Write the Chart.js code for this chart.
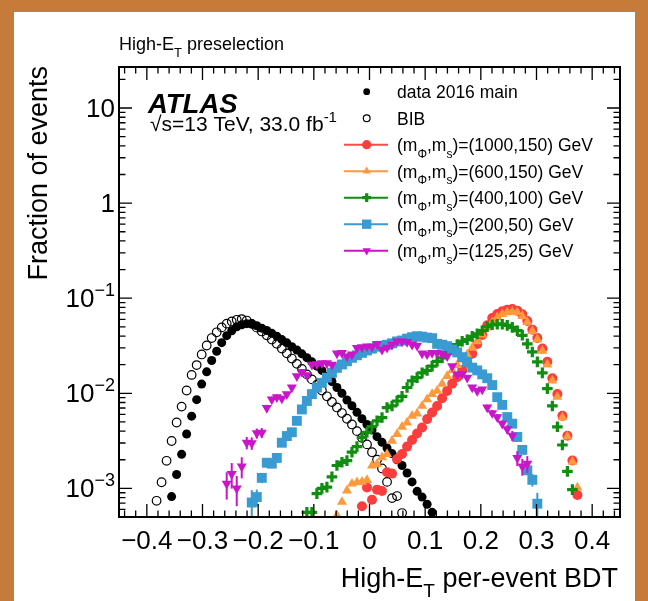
<!DOCTYPE html>
<html>
<head>
<meta charset="utf-8">
<title>High-ET per-event BDT</title>
<script src="https://cdn.jsdelivr.net/npm/chart.js@4.4.1/dist/chart.umd.min.js"></script>
<style>
  html, body { margin: 0; padding: 0; background: #fff; }
  #wrap { width: 648px; height: 601px; }
</style>
</head>
<body>
<div id="wrap"><canvas id="bdt-chart" width="648" height="601"></canvas></div>
<script>
// histogram binning of the BDT output (100 bins over the axis range)
const BIN_LO = -0.45;
const BIN_W = 0.009;

// fraction of events per bin, first bin index given by *Start
const dataStart = 10;
const dataVals = [
  8.2e-4, 1.40e-3, 2.28e-3, 3.73e-3, 5.75e-3, 8.57e-3, 1.25e-2, 1.68e-2, 2.21e-2, 2.77e-2,
  3.41e-2, 4.04e-2, 4.55e-2, 5.01e-2, 5.26e-2, 5.40e-2, 5.37e-2, 5.13e-2, 4.84e-2, 4.57e-2,
  4.27e-2, 3.98e-2, 3.67e-2, 3.39e-2, 3.09e-2, 2.85e-2, 2.60e-2, 2.37e-2, 2.14e-2, 1.93e-2,
  1.74e-2, 1.51e-2, 1.33e-2, 1.15e-2, 1.00e-2, 8.5e-3, 7.4e-3, 6.3e-3, 5.4e-3, 4.7e-3,
  4.1e-3, 3.5e-3, 3.05e-3, 2.66e-3, 2.32e-3, 2.0e-3, 1.74e-3, 1.45e-3, 1.17e-3, 9.3e-4,
  8.1e-4, 6.8e-4, 5.6e-4
];

const bibStart = 7;
const bibVals = [
  7.4e-4, 1.16e-3, 1.95e-3,
  3.15e-3, 4.93e-3, 7.24e-3, 1.07e-2, 1.56e-2, 1.98e-2, 2.56e-2, 3.18e-2, 3.81e-2, 4.38e-2,
  4.93e-2, 5.40e-2, 5.69e-2, 5.93e-2, 6.03e-2, 5.82e-2, 5.37e-2, 4.90e-2, 4.47e-2, 4.07e-2,
  3.67e-2, 3.31e-2, 2.95e-2, 2.63e-2, 2.32e-2, 2.04e-2, 1.80e-2, 1.58e-2, 1.40e-2, 1.23e-2,
  1.07e-2, 9.3e-3, 8.1e-3, 7.1e-3, 6.2e-3, 5.4e-3, 4.7e-3, 4.0e-3, 3.4e-3, 2.9e-3,
  2.4e-3, 2.0e-3, 1.62e-3, 1.17e-3, 7.9e-4, 8.3e-4, 5.5e-4
];

// signal points (m_Phi, m_s) in GeV
const signalMasses = [[1000, 150], [600, 150], [400, 100], [200, 50], [125, 25]];

const sig1000Start = 48;
const sig1000Vals = [
  6.5e-4, 1.02e-3,
  7.6e-4, 9.7e-4, 9.4e-4, 1.48e-3, 1.43e-3, 2.04e-3, 2.30e-3, 2.75e-3, 3.23e-3, 3.78e-3,
  4.37e-3, 5.35e-3, 6.27e-3, 7.36e-3, 8.85e-3, 1.06e-2, 1.26e-2, 1.48e-2, 1.75e-2, 2.1e-2,
  2.6e-2, 3.3e-2, 4.1e-2, 5.2e-2, 6.2e-2, 6.8e-2, 7.3e-2, 7.55e-2, 7.7e-2, 7.4e-2,
  6.76e-2, 5.75e-2, 4.67e-2, 3.81e-2, 2.95e-2, 2.14e-2, 1.44e-2, 9.8e-3, 5.79e-3, 3.58e-3,
  1.96e-3, 8.5e-4
];

const sig600Start = 43;
const sig600Vals = [
  5.2e-4, 7.2e-4, 9.5e-4, 1.12e-3, 1.16e-3, 1.17e-3, 1.22e-3,
  1.74e-3, 1.80e-3, 2.12e-3, 2.30e-3, 3.16e-3, 3.72e-3, 4.44e-3, 4.93e-3, 5.79e-3, 6.12e-3,
  7.36e-3, 8.65e-3, 9.8e-3, 1.06e-2, 1.26e-2, 1.52e-2, 1.74e-2, 1.98e-2, 2.26e-2, 2.56e-2,
  3.0e-2, 3.52e-2, 4.13e-2, 4.9e-2, 5.6e-2, 6.3e-2, 6.8e-2, 7.1e-2, 7.2e-2, 7.1e-2,
  6.5e-2, 5.6e-2, 4.5e-2, 3.7e-2, 2.8e-2, 2.0e-2, 1.36e-2, 9.2e-3, 5.6e-3, 3.5e-3,
  1.9e-3, 1.02e-3
];

const sig400Start = 37;
const sig400Vals = [
  5.6e-4, 5.6e-4, 8.8e-4,
  1.0e-3, 1.03e-3, 1.32e-3, 1.74e-3, 1.88e-3, 1.96e-3, 2.40e-3, 2.75e-3, 3.44e-3, 3.89e-3,
  4.47e-3, 5.13e-3, 5.56e-3, 7.08e-3, 7.36e-3, 8.3e-3, 9.3e-3, 1.15e-2, 1.35e-2, 1.46e-2,
  1.64e-2, 1.74e-2, 1.93e-2, 2.17e-2, 2.36e-2, 2.63e-2, 2.95e-2, 3.25e-2, 3.52e-2, 3.66e-2,
  3.97e-2, 4.22e-2, 4.55e-2, 5.01e-2, 5.25e-2, 5.33e-2, 5.33e-2, 5.18e-2, 4.93e-2, 4.55e-2,
  4.07e-2, 3.31e-2, 2.72e-2, 2.14e-2, 1.64e-2, 1.12e-2, 7.36e-3, 4.44e-3, 2.86e-3, 1.51e-3,
  9.7e-4
];

const sig200Start = 26;
const sig200Vals = [
  7.1e-4, 8.1e-4, 1.29e-3, 1.86e-3,
  1.82e-3, 2.09e-3, 3.02e-3, 3.55e-3, 3.89e-3, 5.13e-3, 6.76e-3, 8.3e-3, 9.8e-3, 1.15e-2,
  1.29e-2, 1.46e-2, 1.64e-2, 1.85e-2, 2.01e-2, 2.17e-2, 2.36e-2, 2.51e-2, 2.66e-2, 2.82e-2,
  2.95e-2, 3.09e-2, 3.16e-2, 3.24e-2, 3.35e-2, 3.51e-2, 3.59e-2, 3.76e-2, 3.89e-2, 3.98e-2,
  3.94e-2, 3.85e-2, 3.80e-2, 3.31e-2, 3.24e-2, 3.13e-2, 2.88e-2, 2.69e-2, 2.40e-2, 2.14e-2,
  1.86e-2, 1.74e-2, 1.58e-2, 1.44e-2, 1.22e-2, 9.1e-3, 7.55e-3, 5.62e-3, 4.79e-3, 3.47e-3,
  2.54e-3, 1.55e-3, 1.23e-3, 6.9e-4
];
// relative stat. uncertainty where the bar sticks out of the marker
const sig200Err = { 26: 0.35, 27: 0.2, 28: 0.12, 81: 0.1, 82: 0.15, 83: 0.3 };

const sig125Start = 21;
const sig125Vals = [
  1.12e-3, 1.42e-3, 1.0e-3, 1.70e-3, 3.02e-3, 2.99e-3, 3.80e-3, 3.85e-3, 7.0e-3,
  8.6e-3, 9.1e-3, 8.8e-3, 9.8e-3, 1.15e-2, 1.51e-2, 1.68e-2, 1.55e-2, 2.0e-2, 2.02e-2,
  2.07e-2, 2.07e-2, 2.0e-2, 2.63e-2, 2.66e-2, 2.45e-2, 2.56e-2, 3.0e-2, 3.05e-2, 3.12e-2,
  3.09e-2, 3.31e-2, 2.88e-2, 3.02e-2, 3.24e-2, 3.52e-2, 3.51e-2, 3.47e-2, 3.25e-2, 3.16e-2,
  2.63e-2, 2.57e-2, 2.66e-2, 2.66e-2, 2.59e-2, 2.45e-2, 1.93e-2, 1.58e-2, 1.60e-2, 1.46e-2,
  1.15e-2, 1.06e-2, 1.10e-2, 7.1e-3, 6.2e-3, 5.6e-3, 4.8e-3, 4.2e-3, 3.58e-3, 2.09e-3,
  1.70e-3, 1.82e-3
];
const sig125Err = {
  21: 0.32, 22: 0.3, 23: 0.35, 24: 0.25, 25: 0.15, 26: 0.15, 27: 0.12, 28: 0.12, 29: 0.08,
  30: 0.07, 31: 0.07, 32: 0.07, 73: 0.07, 74: 0.08, 75: 0.08, 76: 0.08, 77: 0.1, 78: 0.12,
  79: 0.18, 80: 0.2, 81: 0.2
};

const xTickLabels = ['\u22120.4', '\u22120.3', '\u22120.2', '\u22120.1', '0', '0.1', '0.2', '0.3', '0.4'];
const yTickExps = [-3, -2, -1, 0, 1];

const FONT = '"Liberation Sans", Arial, Helvetica, sans-serif';
const FRAME_COL = '#c77b3b';

function binned(start, vals, errs) {
  return vals.map((v, i) => ({
    x: BIN_LO + (start + i + 0.5) * BIN_W,
    y: v,
    err: errs ? errs[start + i] : undefined
  }));
}

function sigLabel(m) {
  return [['(m', ''], ['\u03A6', 'sub'], [',m', ''], ['s', 'sub'], [')=(' + m[0] + ',' + m[1] + ') GeV', '']];
}

// text with sub/superscript pieces: parts = [[text, ''|'sub'|'sup'], ...]
function drawRich(ctx, x, y, parts, size, align, style) {
  const pre = style ? style + ' ' : '';
  const items = parts.map(p => {
    const s = p[1] ? Math.round(size * 0.7) : size;
    ctx.font = pre + s + 'px ' + FONT;
    return { t: p[0], mode: p[1], s: s, w: ctx.measureText(p[0]).width };
  });
  const total = items.reduce((a, it) => a + it.w, 0);
  let cx = align === 'right' ? x - total : (align === 'center' ? x - total / 2 : x);
  ctx.textAlign = 'left';
  ctx.textBaseline = 'alphabetic';
  items.forEach(it => {
    ctx.font = pre + it.s + 'px ' + FONT;
    const dy = it.mode === 'sub' ? size * 0.38 : (it.mode === 'sup' ? -size * 0.42 : 0);
    ctx.fillText(it.t, cx, y + dy);
    cx += it.w;
  });
}

const framePlugin = {
  id: 'frame',
  beforeDraw(chart) {
    const ctx = chart.ctx;
    ctx.save();
    ctx.fillStyle = FRAME_COL;
    ctx.fillRect(0, 0, chart.width, chart.height);
    ctx.fillStyle = '#fff';
    ctx.fillRect(14, 12, 621, chart.height - 12);
    ctx.restore();
  }
};

const errorBarPlugin = {
  id: 'errorBars',
  beforeDatasetDraw(chart, args) {
    const ds = chart.data.datasets[args.index];
    const ys = chart.scales.y;
    const area = chart.chartArea;
    const ctx = chart.ctx;
    ctx.save();
    ctx.strokeStyle = ds.borderColor;
    ctx.lineWidth = 2;
    args.meta.data.forEach((pt, i) => {
      const d = ds.data[i];
      if (!d.err) return;
      const top = Math.max(area.top, ys.getPixelForValue(d.y * (1 + d.err)));
      const bot = Math.min(area.bottom, ys.getPixelForValue(Math.max(d.y * (1 - d.err), 1e-6)));
      ctx.beginPath();
      ctx.moveTo(pt.x, top);
      ctx.lineTo(pt.x, bot);
      ctx.stroke();
    });
    ctx.restore();
  }
};

const axesPlugin = {
  id: 'rootAxes',
  afterDraw(chart) {
    const ctx = chart.ctx;
    const a = chart.chartArea;
    const xs = chart.scales.x;
    const ys = chart.scales.y;
    ctx.save();
    ctx.strokeStyle = '#000';
    ctx.fillStyle = '#000';

    // ticks inside the frame, on all four sides
    ctx.lineWidth = 1.3;
    ctx.beginPath();
    for (let k = -22; k <= 22; k++) {
      const px = xs.getPixelForValue(k * 0.02);
      const len = k % 5 === 0 ? 13 : 6.5;
      ctx.moveTo(px, a.bottom); ctx.lineTo(px, a.bottom - len);
      ctx.moveTo(px, a.top); ctx.lineTo(px, a.top + len);
    }
    for (let e = -4; e <= 1; e++) {
      for (let m = 1; m <= 9; m++) {
        const v = m * Math.pow(10, e);
        if (v < ys.min || v > ys.max) continue;
        const py = ys.getPixelForValue(v);
        const len = m === 1 ? 13 : 6.5;
        ctx.moveTo(a.left, py); ctx.lineTo(a.left + len, py);
        ctx.moveTo(a.right, py); ctx.lineTo(a.right - len, py);
      }
    }
    ctx.stroke();
    ctx.lineWidth = 2;
    ctx.strokeRect(a.left, a.top, a.right - a.left, a.bottom - a.top);

    // tick labels
    ctx.font = '26px ' + FONT;
    ctx.textAlign = 'center';
    ctx.textBaseline = 'alphabetic';
    xTickLabels.forEach((lab, i) => {
      ctx.fillText(lab, xs.getPixelForValue((i - 4) * 0.1), 549);
    });
    yTickExps.forEach(e => {
      const py = ys.getPixelForValue(Math.pow(10, e)) + 9;
      let parts;
      if (e === 1) parts = [['10', '']];
      else if (e === 0) parts = [['1', '']];
      else parts = [['10', ''], ['\u2212' + (-e), 'sup']];
      drawRich(ctx, 115, py, parts, 26, 'right');
    });

    // axis titles
    drawRich(ctx, 618, 587, [['High-E', ''], ['T', 'sub'], [' per-event BDT', '']], 27, 'right');
    ctx.save();
    ctx.translate(47, a.top - 1);
    ctx.rotate(-Math.PI / 2);
    ctx.font = '27px ' + FONT;
    ctx.textAlign = 'right';
    ctx.fillText('Fraction of events', 0, 0);
    ctx.restore();

    // labels
    drawRich(ctx, 119, 50, [['High-E', ''], ['T', 'sub'], [' preselection', '']], 18, 'left');
    ctx.font = 'italic bold 27.5px ' + FONT;
    ctx.textAlign = 'left';
    ctx.fillText('ATLAS', 148, 113);
    drawRich(ctx, 150, 131, [['\u221As=13 TeV, 33.0 fb', ''], ['-1', 'sup']], 21, 'left');

    // legend
    const rowY = 91.7, rowStep = 26.5, mx = 366.7;
    chart.data.datasets.forEach((ds, i) => {
      const y = rowY + i * rowStep;
      const col = ds.borderColor;
      if (ds.legendLine) {
        ctx.strokeStyle = ds.lineColor;
        ctx.lineWidth = 2;
        ctx.beginPath();
        ctx.moveTo(344, y); ctx.lineTo(388, y);
        ctx.stroke();
      }
      ctx.fillStyle = ds.backgroundColor;
      ctx.strokeStyle = col;
      ctx.lineWidth = ds.pointBorderWidth || 1;
      Chart.helpers.drawPoint(ctx, {
        pointStyle: ds.pointStyle,
        radius: ds.legendRadius,
        rotation: ds.pointRotation || 0,
        borderWidth: ds.pointBorderWidth || 0
      }, mx, y);
      ctx.fillStyle = '#000';
      drawRich(ctx, 397, y + 6.3, ds.legendText, 17.5, 'left');
    });
    ctx.restore();
  }
};

function series(label, parts, data, style) {
  return Object.assign({
    label: label,
    legendText: parts,
    data: data,
    showLine: false,
    pointBorderWidth: 0
  }, style);
}

const datasets = [
  series('data 2016 main', [['data 2016 main', '']], binned(dataStart, dataVals), {
    pointStyle: 'circle', pointRadius: 4.5, backgroundColor: '#000', borderColor: '#000',
    legendRadius: 3.4, order: 6
  }),
  series('BIB', [['BIB', '']], binned(bibStart, bibVals), {
    pointStyle: 'circle', pointRadius: 4.3, backgroundColor: 'rgba(0,0,0,0)', borderColor: '#000',
    pointBorderWidth: 1.2, legendRadius: 3.4, order: 7
  }),
  series('1000,150', sigLabel(signalMasses[0]), binned(sig1000Start, sig1000Vals), {
    pointStyle: 'circle', pointRadius: 5, backgroundColor: '#fb3d3d', borderColor: '#fb3d3d',
    legendRadius: 4.6, legendLine: true, lineColor: '#fb4a4a', order: 5
  }),
  series('600,150', sigLabel(signalMasses[1]), binned(sig600Start, sig600Vals), {
    pointStyle: 'triangle', pointRadius: 5.8, backgroundColor: '#fd9a3e', borderColor: '#fd9a3e',
    legendRadius: 4.8, legendLine: true, lineColor: '#fd9a3e', order: 4
  }),
  series('400,100', sigLabel(signalMasses[2]), binned(sig400Start, sig400Vals), {
    pointStyle: 'cross', pointRadius: 5.3, backgroundColor: '#108e10', borderColor: '#108e10',
    pointBorderWidth: 3.2, legendRadius: 4.4, legendLine: true, lineColor: '#108e10', order: 3
  }),
  series('200,50', sigLabel(signalMasses[3]), binned(sig200Start, sig200Vals, sig200Err), {
    pointStyle: 'rect', pointRadius: 7, backgroundColor: '#3a9ad2', borderColor: '#3a9ad2',
    legendRadius: 6.6, legendLine: true, lineColor: '#3a9ad2', order: 2
  }),
  series('125,25', sigLabel(signalMasses[4]), binned(sig125Start, sig125Vals, sig125Err), {
    pointStyle: 'triangle', pointRotation: 180, pointRadius: 5.8, backgroundColor: '#c816c8',
    borderColor: '#c816c8', legendRadius: 4.8, legendLine: true, lineColor: '#c816c8', order: 1
  })
];

new Chart(document.getElementById('bdt-chart'), {
  type: 'scatter',
  data: { datasets: datasets },
  options: {
    responsive: false,
    animation: false,
    events: [],
    layout: { padding: { left: 119, right: 28, top: 67, bottom: 84 } },
    plugins: { legend: { display: false }, tooltip: { enabled: false } },
    scales: {
      x: { type: 'linear', min: -0.45, max: 0.45, display: false },
      y: { type: 'logarithmic', min: 5e-4, max: 27, display: false }
    }
  },
  plugins: [framePlugin, errorBarPlugin, axesPlugin]
});
</script>
</body>
</html>
